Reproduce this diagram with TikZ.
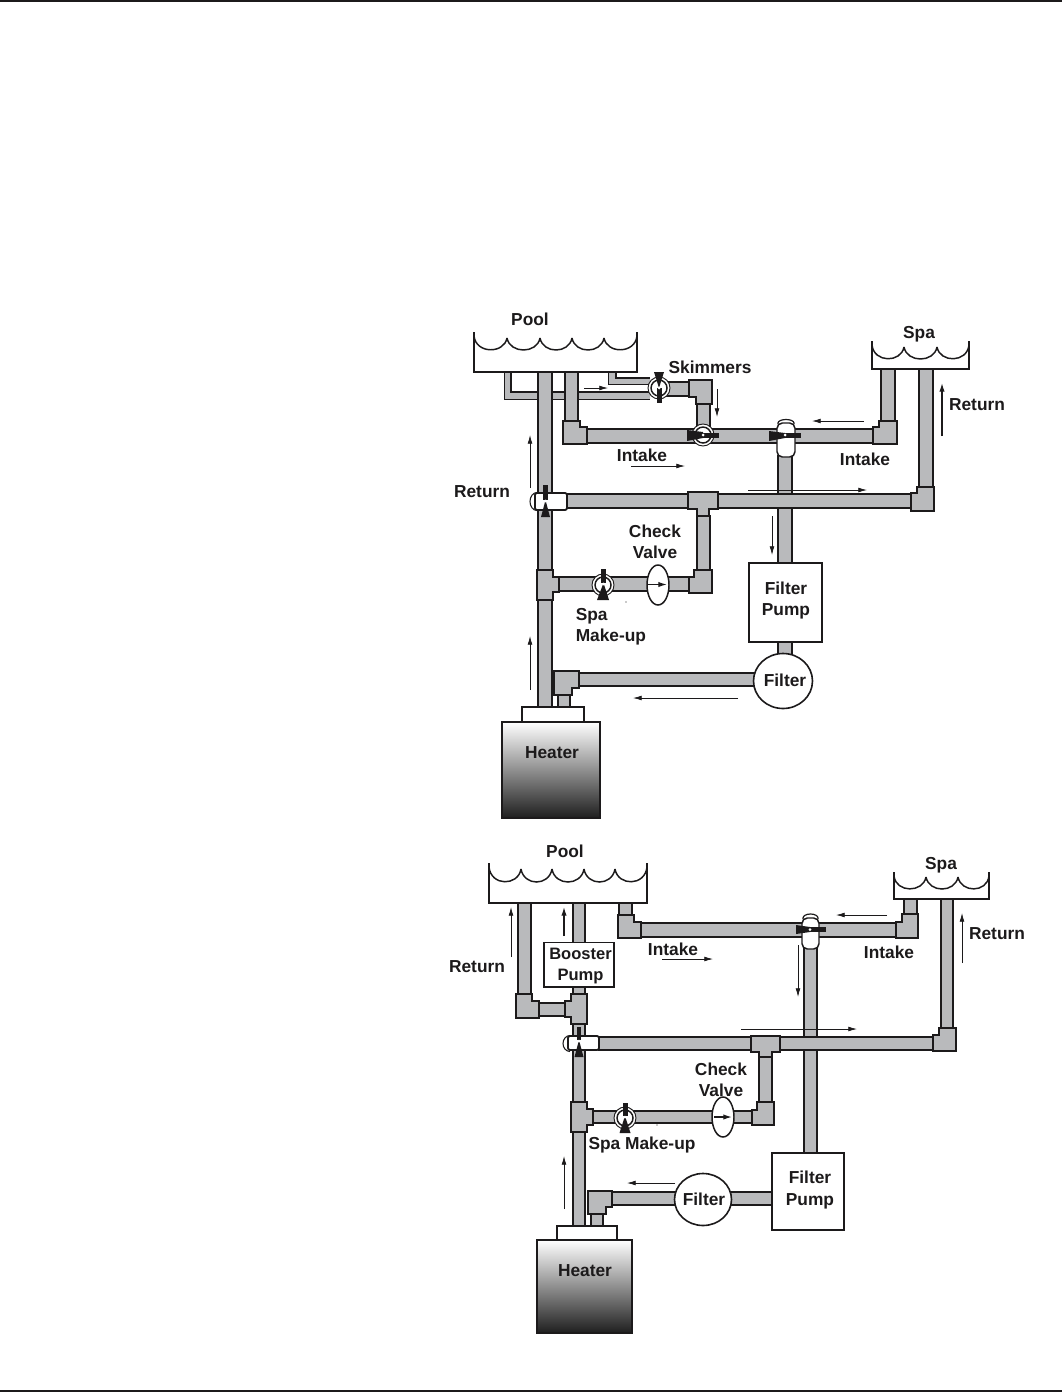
\documentclass[tikz,border=0pt]{standalone}
\usepackage{fontspec}
\setmainfont{Liberation Sans}
\usetikzlibrary{arrows.meta}
\definecolor{pipegray}{HTML}{B9BABC}
\definecolor{inkblack}{HTML}{1C1A1B}
\tikzset{
  edge/.style={draw=inkblack,line width=1.35pt},
  fitting/.style={edge,fill=pipegray,line join=miter},
  flow/.style={draw=inkblack,line width=0.55pt,-{Latex[length=6.5pt,width=3.6pt]}},
  flowbold/.style={draw=inkblack,line width=0.95pt,-{Latex[length=6.5pt,width=4pt]}},
  label/.style={font=\bfseries\fontsize{13pt}{15pt}\selectfont,text=inkblack,inner sep=0pt,align=center},
  handle/.style={fill=inkblack,draw=none},
}
% horizontal pipe: x1 x2 ytop ybottom
\newcommand\hpipe[4]{\fill[pipegray] (#1,#3) rectangle (#2,#4);
  \draw[edge] (#1,#3) -- (#2,#3) (#1,#4) -- (#2,#4);}
% vertical pipe: xleft xright y1 y2
\newcommand\vpipe[4]{\fill[pipegray] (#1,#3) rectangle (#2,#4);
  \draw[edge] (#1,#3) -- (#1,#4) (#2,#3) -- (#2,#4);}
% tub: xL xR top bot cusp low firstcusp lastcusp pairs
\newcommand\tub[9]{\draw[draw=inkblack,fill=white,line width=1.1pt] (#1,#3) -- (#1,#4) -- (#2,#4) -- (#2,#3);
  \pgfmathsetmacro\ctrl{#5+(#6-#5)/0.75}
  \draw[draw=inkblack,line width=1.1pt] (#1,#3+4) .. controls (#1+2,\ctrl) and (#7-3,\ctrl) .. (#7,#5);
  \draw[draw=inkblack,line width=1.1pt] (#8,#5) .. controls (#8+3,\ctrl) and (#2-2,\ctrl) .. (#2,#3+4);
  \foreach \pa/\pb in {#9} {\draw[draw=inkblack,line width=1.1pt] (\pa,#5) .. controls (\pa+3,\ctrl) and (\pb-3,\ctrl) .. (\pb,#5);}}
\newcommand\ballvalve[2]{\draw[draw=inkblack,fill=white,line width=0.7pt] (#1,#2) circle [radius=11];
  \draw[draw=inkblack,fill=white,line width=1.1pt] (#1,#2) circle [radius=8];}
\begin{document}
\begin{tikzpicture}[x=0.75pt,y=-0.75pt,line cap=butt]
\useasboundingbox (0,0) rectangle (1062,1392);
\fill[white] (0,0) rectangle (1062,1392);
\draw[draw=inkblack,line width=1.2pt] (0,0.8) -- (1062,0.8);
\draw[draw=inkblack,line width=1.5pt] (0,1391) -- (1062,1391);

%%%%%%%%%% TOP DIAGRAM
% skimmer lines
\fill[pipegray] (504,372) -- (511,372) -- (511,392) -- (650,392) -- (650,399) -- (504,399) -- cycle;
\draw[edge] (511,372) -- (511,392) -- (650,392);
\draw[draw=inkblack,line width=0.7pt] (504,372) -- (504,399) -- (650,399);
\fill[pipegray] (608,372) -- (616,372) -- (616,378) -- (650,378) -- (650,384) -- (608,384) -- cycle;
\draw[edge] (616,372) -- (616,378) -- (650,378);
\draw[draw=inkblack,line width=0.7pt] (608,372) -- (608,384) -- (650,384);
% pipes
\vpipe{538}{552}{372}{707}
\vpipe{565}{578}{372}{422}
\hpipe{586}{875}{429}{443}
\vpipe{881}{895}{369}{422}
\vpipe{919}{933}{369}{488}
\vpipe{778}{792}{455}{563}
\hpipe{560}{912}{494}{508}
\vpipe{697}{710}{515}{571}
\hpipe{558}{690}{577}{591}
\hpipe{578}{755}{673}{686}
\vpipe{778}{792}{640}{656}
\vpipe{558}{570}{694}{707}
\hpipe{655}{690}{382}{396}
\vpipe{697}{710}{403}{436}
% fittings
\draw[fitting] (563,421) -- (580,421) -- (580,427) -- (587,427) -- (587,444) -- (563,444) -- cycle;
\draw[fitting] (873,427) -- (879,427) -- (879,421) -- (897,421) -- (897,444) -- (873,444) -- cycle;
\draw[fitting] (917,487) -- (934,487) -- (934,511) -- (911,511) -- (911,493) -- (917,493) -- cycle;
\draw[fitting] (688,492) -- (718,492) -- (718,509) -- (709,509) -- (709,516) -- (697,516) -- (697,509) -- (688,509) -- cycle;
\draw[fitting] (694,570) -- (712,570) -- (712,593) -- (689,593) -- (689,577) -- (694,577) -- cycle;
\draw[fitting] (537,570) -- (553,570) -- (553,577) -- (559,577) -- (559,592) -- (553,592) -- (553,600) -- (537,600) -- cycle;
\draw[fitting] (554,671) -- (579,671) -- (579,688) -- (572,688) -- (572,695) -- (554,695) -- cycle;
\draw[fitting] (689,380) -- (712,380) -- (712,404) -- (696,404) -- (696,397) -- (689,397) -- cycle;
% tubs
\tub{474}{637}{332}{372}{338}{350}{507}{604}{507/540,540/572,572/604}
\tub{872}{969}{341}{369}{347}{359}{904}{937}{904/937}
\node[label] (poolA) at (530,319) {Pool};
\node[label] (spaA) at (919,334) {Spa};
% three-way valve on return
\draw[draw=inkblack,line width=0.8pt,fill=white] (537,492.5) arc[start angle=270,end angle=90,x radius=7,y radius=9];
\draw[edge,fill=white,rounded corners=1.5pt] (535,493) -- (567,493) -- (567,510) -- (535,510) -- cycle;
\fill[handle] (543,485) rectangle (548,500);
\fill[handle] (545.5,500) -- (550,517) -- (541,517) -- cycle;
\fill[white] (545.5,501) circle [radius=1.5];
% skimmer valve
\ballvalve{659}{388}
\fill[handle] (654,372) -- (664,372) -- (659,388) -- cycle;
\fill[handle] (657,388) rectangle (662,403);
\fill[white] (659,388) circle [radius=1.5];
% intake valve
\ballvalve{703}{435}
\fill[handle] (687,430) -- (703,432) -- (703,438) -- (687,441) -- cycle;
\fill[handle] (703,432.5) rectangle (719,437.5);
\fill[white] (703,435) circle [radius=1.5];
% spa intake valve
\draw[draw=inkblack,line width=0.9pt,fill=white] (778,424) -- (778,423) arc[start angle=180,end angle=360,x radius=8,y radius=3.5] -- (794,424);
\draw[draw=inkblack,line width=1.1pt,fill=white,rounded corners=4pt] (777,423) -- (795,423) -- (795,457) -- (777,457) -- cycle;
\fill[handle] (769,431) -- (785,433) -- (785,438) -- (769,441) -- cycle;
\fill[handle] (785,433) rectangle (801,438);
\fill[white] (785,435) circle [radius=1.5];
% spa make-up valve
\ballvalve{603}{585}
\fill[handle] (601,569) rectangle (606,583);
\fill[handle] (603.5,583) -- (609,600) -- (597,600) -- cycle;
\fill[white] (603.5,584) circle [radius=1.5];
\fill[inkblack] (626,602) circle [radius=0.6];
% check valve
\draw[draw=inkblack,fill=white,line width=1.1pt] (658,585) ellipse [x radius=11,y radius=20];
\draw[flowbold] (648,584.5) -- (667,584.5);
% boxes
\node[draw=inkblack,fill=white,line width=1.2pt,minimum width=54.5pt,minimum height=59pt,inner sep=0pt] (pumpA) at (785.5,602.5) {};
\node[label] at (786,600.5) {Filter\\[1pt]Pump};
\draw[draw=inkblack,fill=white,line width=1.2pt] (783,681) ellipse [x radius=29.5,y radius=27.5];
\node[label] (filterA) at (785,680) {Filter};
\draw[draw=inkblack,fill=white,line width=1.1pt] (522,707) rectangle (584,722);
\shade[top color=white,middle color=black!38,bottom color=black!88] (502,722) rectangle (600,818);
\draw[draw=inkblack,line width=1.4pt] (502,722) rectangle (600,818);
\node[label] (heaterA) at (552,753) {Heater};
% labels
\node[label] at (710,367) {Skimmers};
\node[label] at (977,405) {Return};
\node[label] at (865,459) {Intake};
\node[label] at (482,492) {Return};
\node[label] at (642,455) {Intake};
\node[label] at (655,541.5) {Check\\[1pt]Valve};
\node[label,align=left,anchor=west] at (575.5,626.5) {Spa\\[1pt]Make-up};
% flow arrows
\draw[flow] (584,388) -- (608,388);
\draw[flow] (717,389) -- (717,417);
\draw[flow] (864,421) -- (812,421);
\draw[flow] (631,466) -- (685,466);
\draw[flow] (530,488) -- (530,435);
\draw[flow] (748,490) -- (867,490);
\draw[flowbold] (942,436) -- (942,383);
\draw[flow] (772,516) -- (772,555);
\draw[flow] (530,690) -- (530,636);
\draw[flow] (738,698) -- (633,698);

%%%%%%%%%% BOTTOM DIAGRAM
\vpipe{518}{531}{903}{995}
\hpipe{538}{566}{1003}{1016}
\vpipe{573}{585}{903}{943}
\vpipe{573}{585}{986}{995}
\vpipe{573}{585}{1023}{1226}
\hpipe{639}{897}{923}{937}
\vpipe{619}{632}{903}{916}
\vpipe{904}{917}{899}{915}
\vpipe{804}{817}{947}{1154}
\hpipe{598}{934}{1037}{1050}
\vpipe{941}{953}{899}{1029}
\vpipe{759}{772}{1056}{1103}
\hpipe{592}{753}{1111}{1123}
\hpipe{611}{773}{1192}{1205}
\vpipe{591}{603}{1213}{1226}
% fittings
\draw[fitting] (516,994) -- (532,994) -- (532,1001) -- (539,1001) -- (539,1018) -- (516,1018) -- cycle;
\draw[fitting] (571,994) -- (587,994) -- (587,1024) -- (571,1024) -- (571,1017) -- (565,1017) -- (565,1001) -- (571,1001) -- cycle;
\draw[fitting] (939,1028) -- (956,1028) -- (956,1051) -- (933,1051) -- (933,1035) -- (939,1035) -- cycle;
\draw[fitting] (751,1036) -- (780,1036) -- (780,1052) -- (772,1052) -- (772,1057) -- (759,1057) -- (759,1052) -- (751,1052) -- cycle;
\draw[fitting] (757,1102) -- (774,1102) -- (774,1125) -- (752,1125) -- (752,1110) -- (757,1110) -- cycle;
\draw[fitting] (571,1102) -- (587,1102) -- (587,1109) -- (593,1109) -- (593,1125) -- (587,1125) -- (587,1132) -- (571,1132) -- cycle;
\draw[fitting] (618,915) -- (634,915) -- (634,922) -- (641,922) -- (641,938) -- (618,938) -- cycle;
\draw[fitting] (896,922) -- (902,922) -- (902,914) -- (918,914) -- (918,938) -- (896,938) -- cycle;
\draw[fitting] (588,1191) -- (612,1191) -- (612,1207) -- (606,1207) -- (606,1214) -- (588,1214) -- cycle;
% tubs
\tub{489}{647}{863}{903}{869}{882}{521}{615}{521/552,552/584,584/615}
\tub{894}{989}{872}{899}{877}{889}{926}{958}{926/958}
\node[label] (poolB) at (565,851) {Pool};
\node[label] (spaB) at (941,865) {Spa};
% three-way valve
\draw[draw=inkblack,line width=0.8pt,fill=white] (570,1035.5) arc[start angle=270,end angle=90,x radius=7,y radius=8];
\draw[edge,fill=white,rounded corners=1.5pt] (568,1036) -- (599,1036) -- (599,1050) -- (568,1050) -- cycle;
\fill[handle] (577,1027) rectangle (581,1040);
\fill[handle] (579,1040) -- (583.5,1057) -- (574.5,1057) -- cycle;
\fill[white] (579,1041) circle [radius=1.5];
% upper valve
\draw[draw=inkblack,line width=0.9pt,fill=white] (803,919) -- (803,918) arc[start angle=180,end angle=360,x radius=7.5,y radius=4] -- (818,919);
\draw[draw=inkblack,line width=1.1pt,fill=white,rounded corners=4pt] (802,918) -- (819,918) -- (819,949) -- (802,949) -- cycle;
\fill[handle] (796,925) -- (810,927) -- (810,932) -- (796,934) -- cycle;
\fill[handle] (810,927) rectangle (826,932);
\fill[white] (810,929.5) circle [radius=1.5];
% make-up valve
\ballvalve{625}{1118}
\fill[handle] (622.5,1103) rectangle (627.5,1116);
\fill[handle] (625,1116) -- (630.5,1133) -- (619.5,1133) -- cycle;
\fill[white] (625,1117) circle [radius=1.5];
\fill[inkblack] (657,1125) circle [radius=0.6];
% check valve
\draw[draw=inkblack,fill=white,line width=1.1pt] (723,1117) ellipse [x radius=11,y radius=20];
\draw[flowbold] (714,1117) -- (732,1117);
% boxes
\node[draw=inkblack,fill=white,line width=1pt,minimum width=52.5pt,minimum height=33.5pt,inner sep=0pt] (booster) at (579,964.5) {};
\node[label,font=\bfseries\fontsize{12.4pt}{15pt}\selectfont] at (580.5,966) {Booster\\[1pt]Pump};
\node[draw=inkblack,fill=white,line width=1.2pt,minimum width=54pt,minimum height=58pt,inner sep=0pt] (pumpB) at (808,1191.5) {};
\node[label] at (810,1190) {Filter\\[1pt]Pump};
\draw[draw=inkblack,fill=white,line width=1.2pt] (703,1199.5) ellipse [x radius=28.5,y radius=26];
\node[label] (filterB) at (704,1199) {Filter};
\draw[draw=inkblack,fill=white,line width=1.1pt] (557,1226) rectangle (617,1240);
\shade[top color=white,middle color=black!38,bottom color=black!88] (537,1240) rectangle (632,1333);
\draw[draw=inkblack,line width=1.4pt] (537,1240) rectangle (632,1333);
\node[label] (heaterB) at (585,1271) {Heater};
% labels
\node[label] at (997,934) {Return};
\node[label] at (889,952) {Intake};
\node[label] at (673,949) {Intake};
\node[label] at (477,967) {Return};
\node[label] at (721,1080) {Check\\[1pt]Valve};
\node[label] at (642,1145) {Spa Make-up};
% arrows
\draw[flow] (511,957) -- (511,907);
\draw[flowbold] (564,936) -- (564,907);
\draw[flow] (662,959) -- (713,959);
\draw[flow] (887,915) -- (836,915);
\draw[flow] (798,945) -- (798,997);
\draw[flow] (741,1029) -- (857,1029);
\draw[flow] (962,963) -- (962,913);
\draw[flow] (564,1209) -- (564,1156);
\draw[flow] (675,1183) -- (627,1183);
\end{tikzpicture}
\end{document}
